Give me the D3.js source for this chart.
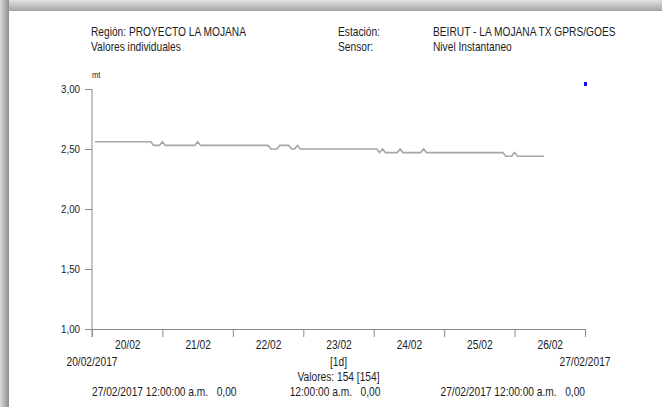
<!DOCTYPE html>
<html>
<head>
<meta charset="utf-8">
<script src="https://cdn.jsdelivr.net/npm/d3@7"></script>
<style>
  body { margin: 0; background: #fff; }
  svg { display: block; }
  text { font-family: "Liberation Sans", Arial, sans-serif; fill: #1c1c1c; white-space: pre; }
</style>
</head>
<body>
<div class="chart"></div>
<script>
// hourly readings, only the points where the level changes
let times = ["20/02/2017 01:00", "20/02/2017 20:00", "20/02/2017 21:00", "20/02/2017 23:00",
  "21/02/2017 00:00", "21/02/2017 01:00", "21/02/2017 11:00", "21/02/2017 12:00", "21/02/2017 13:00",
  "22/02/2017 12:00", "22/02/2017 13:00", "22/02/2017 15:00", "22/02/2017 16:00", "22/02/2017 19:00",
  "22/02/2017 20:00", "22/02/2017 21:00", "22/02/2017 22:00", "22/02/2017 23:00",
  "24/02/2017 01:00", "24/02/2017 02:00", "24/02/2017 03:00", "24/02/2017 04:00", "24/02/2017 08:00",
  "24/02/2017 09:00", "24/02/2017 10:00", "24/02/2017 16:00", "24/02/2017 17:00", "24/02/2017 18:00",
  "25/02/2017 20:00", "25/02/2017 21:00", "25/02/2017 23:00", "26/02/2017 00:00", "26/02/2017 01:00",
  "26/02/2017 10:00"];
let levels = [2.56, 2.56, 2.53, 2.53,
  2.56, 2.53, 2.53, 2.56, 2.53,
  2.53, 2.50, 2.50, 2.53, 2.53,
  2.50, 2.50, 2.53, 2.50,
  2.50, 2.47, 2.50, 2.47, 2.47,
  2.50, 2.47, 2.47, 2.50, 2.47,
  2.47, 2.44, 2.44, 2.47, 2.44,
  2.44];

let dayTicks = ["20/02/2017", "21/02/2017", "22/02/2017", "23/02/2017", "24/02/2017",
  "25/02/2017", "26/02/2017", "27/02/2017"];
let yTicks = [1.00, 1.50, 2.00, 2.50, 3.00];

let headerLeft = ["Región: PROYECTO LA MOJANA", "Valores individuales"];
let headerMid = ["Estación:", "Sensor:"];
let headerRight = ["BEIRUT - LA MOJANA TX GPRS/GOES", "Nivel Instantaneo"];
let footer = ["27/02/2017 12:00:00 a.m.   0,00", "12:00:00 a.m.   0,00", "27/02/2017 12:00:00 a.m.   0,00"];

let svgWidth = 662;
let svgHeight = 407;
let sx = 0.85; // narrow look of the printed font

let parseTime = d3.timeParse("%d/%m/%Y %H:%M");
let parseDay = d3.timeParse("%d/%m/%Y");
let data = times.map(function(t, i) { return {date: parseTime(t), value: levels[i]}; });
let days = dayTicks.map(parseDay);

let locale = d3.formatLocale({decimal: ",", thousands: ".", grouping: [3], currency: ["", ""]});
let fmt = locale.format(".2f");

let svg = d3.select(".chart").append("svg")
  .attr("width", svgWidth)
  .attr("height", svgHeight);

// page shadow
let defs = svg.append("defs");
let gTop = defs.append("linearGradient").attr("id", "shTop").attr("x1", 0).attr("y1", 0).attr("x2", 0).attr("y2", 1);
gTop.append("stop").attr("offset", "0%").attr("stop-color", "#e2e2e2");
gTop.append("stop").attr("offset", "100%").attr("stop-color", "#a4a4a4");
let gLeft = defs.append("linearGradient").attr("id", "shLeft").attr("x1", 0).attr("y1", 0).attr("x2", 1).attr("y2", 0);
gLeft.append("stop").attr("offset", "0%").attr("stop-color", "#dcdcdc");
gLeft.append("stop").attr("offset", "100%").attr("stop-color", "#8c8c8c");

svg.append("rect").attr("width", svgWidth).attr("height", svgHeight).attr("fill", "#fff");
svg.append("rect").attr("x", 0).attr("y", 0).attr("width", svgWidth).attr("height", 11).attr("fill", "url(#shTop)");
svg.append("rect").attr("x", 0).attr("y", 0).attr("width", 9).attr("height", svgHeight).attr("fill", "url(#shLeft)");

function label(x, y, str, anchor, size) {
  return svg.append("text")
    .attr("transform", `translate(${x}, ${y}) scale(${sx}, 1)`)
    .attr("text-anchor", anchor || "start")
    .style("font-size", (size || 12) + "px")
    .text(str);
}

let x = d3.scaleTime()
  .domain([days[0], days[days.length - 1]])
  .range([92, 585]);
let y = d3.scaleLinear()
  .domain([1, 3])
  .range([329, 89]);

// header
headerLeft.forEach(function(t, i) { label(91, 36 + i * 15, t); });
headerMid.forEach(function(t, i) { label(338, 36 + i * 15, t); });
headerRight.forEach(function(t, i) { label(433, 36 + i * 15, t); });
label(92, 78, "mt", "start", 9);

// y axis
let leftAxis = d3.axisLeft(y).tickValues(yTicks).tickFormat(fmt).tickSize(7).tickPadding(5);
let gy = svg.append("g").attr("transform", "translate(92, 0)").call(leftAxis);
gy.select(".domain").remove();
gy.selectAll("line").attr("stroke", "#8a8a8a");
gy.selectAll("text")
  .style("font-size", "11.5px")
  .style("font-family", null)
  .attr("x", -12 / sx)
  .attr("transform", `scale(${sx}, 1)`);
gy.attr("font-family", null).attr("font-size", null);

svg.append("line")
  .attr("x1", 92).attr("x2", 92)
  .attr("y1", y(3)).attr("y2", y(1) + 8)
  .attr("stroke", "#8a8a8a");

// x axis: day boundaries
let bottomAxis = d3.axisBottom(x).tickValues(days).tickFormat("").tickSize(8).tickSizeOuter(0);
let gx = svg.append("g").attr("transform", `translate(0, ${y(1)})`).call(bottomAxis);
gx.select(".domain").attr("stroke", "#8a8a8a");
gx.selectAll("line").attr("stroke", "#8a8a8a");

// day labels centred in each day
let noons = days.slice(0, -1).map(function(d) { return d3.timeHour.offset(d, 12); });
let labelAxis = d3.axisBottom(x).tickValues(noons).tickFormat(d3.timeFormat("%d/%m")).tickSize(0).tickPadding(0);
let gl = svg.append("g").attr("transform", `translate(0, ${y(1) + 11})`).call(labelAxis);
gl.select(".domain").remove();
gl.attr("font-family", null).attr("font-size", null);
gl.selectAll("text")
  .style("font-size", "12px")
  .attr("transform", `scale(${sx}, 1)`);

// footer
label(x(days[0]), 366, d3.timeFormat("%d/%m/%Y")(days[0]), "middle");
label(x(days[days.length - 1]), 366, d3.timeFormat("%d/%m/%Y")(days[days.length - 1]), "middle");
label((x.range()[0] + x.range()[1]) / 2, 366, "[1d]", "middle");
label((x.range()[0] + x.range()[1]) / 2, 381, "Valores: 154 [154]", "middle");
label(x.range()[0], 396, footer[0], "start");
label(335, 396, footer[1], "middle");
label(x.range()[1], 396, footer[2], "end");

// level line
let line = d3.line()
  .x(function(d) { return x(d.date); })
  .y(function(d) { return y(d.value); });

svg.append("path")
  .datum(data)
  .attr("fill", "none")
  .attr("stroke", "#a6a6a6")
  .attr("stroke-width", 1.6)
  .attr("d", line);

// legend marker
svg.append("rect")
  .attr("x", 584).attr("y", 82)
  .attr("width", 3).attr("height", 4)
  .attr("fill", "#1010f0");
</script>
</body>
</html>
